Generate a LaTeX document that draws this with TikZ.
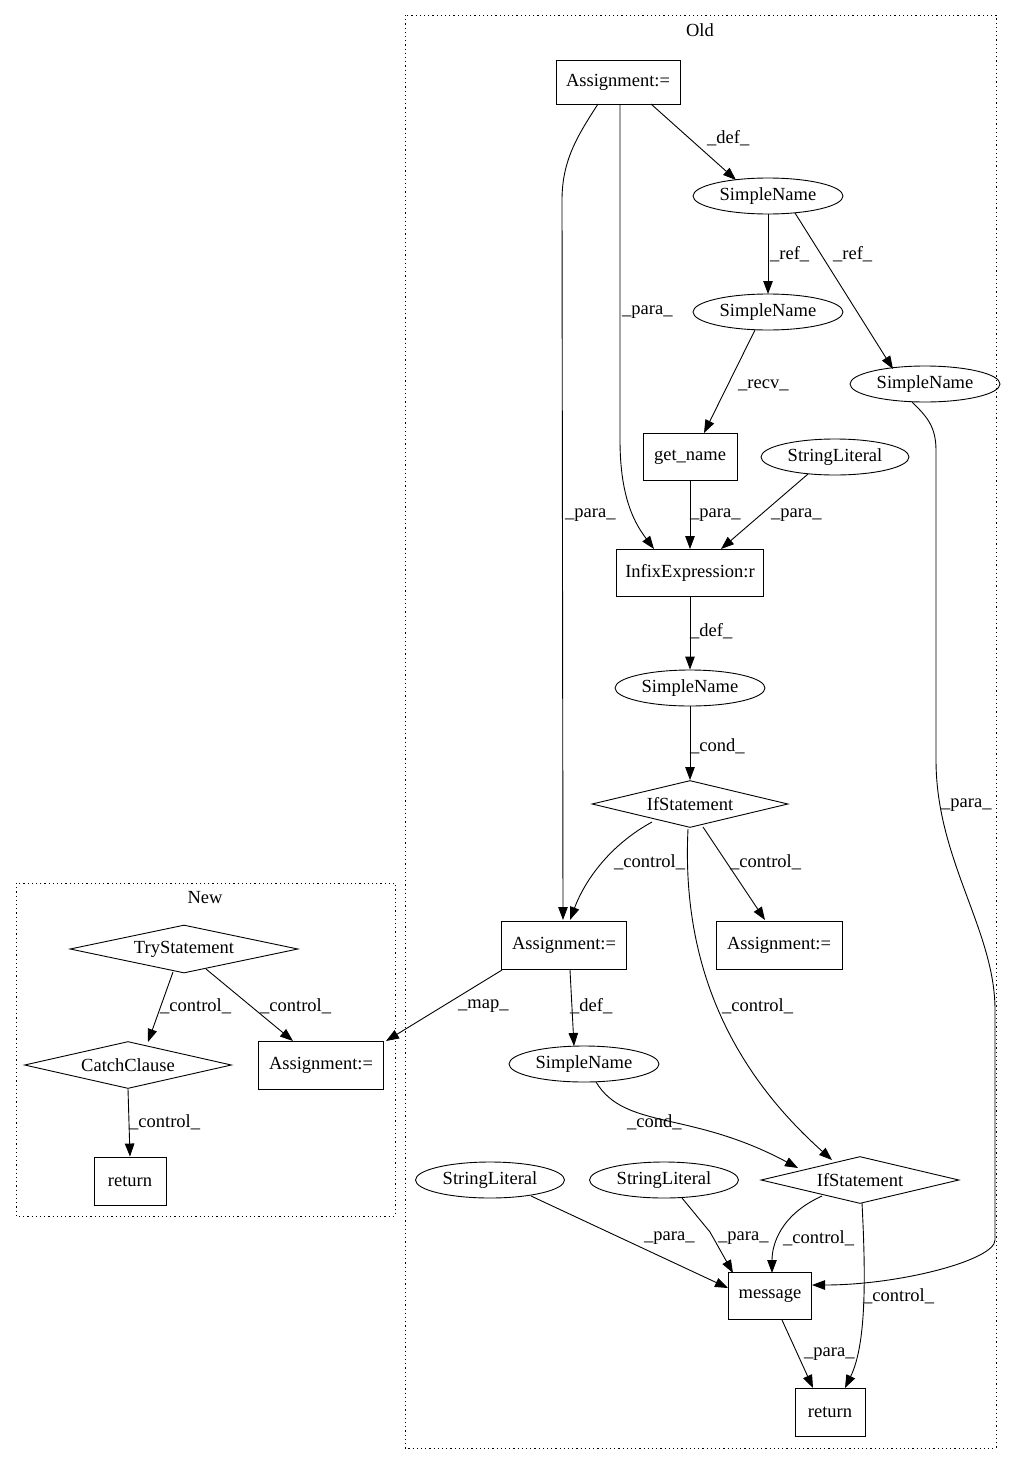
\documentclass[tikz,border=0pt]{standalone}
\usepackage{fontspec}
\setmainfont{Liberation Serif}
\usetikzlibrary{arrows.meta,shapes.geometric}
\begin{document}
\begin{tikzpicture}[x=1pt,y=-1pt,
  every node/.style={font=\fontsize{18.5}{21}\selectfont},
  box/.style={draw,line width=0.9pt,rectangle,minimum height=46pt,inner sep=0pt},
  oval/.style={draw,line width=0.9pt,ellipse,minimum height=36pt,inner sep=0pt},
  dia/.style={draw,line width=0.9pt,diamond,aspect=4.2,inner sep=0pt,minimum height=47pt},
  lbl/.style={inner sep=0pt,anchor=west},
  edge/.style={line width=0.9pt,-{Triangle[length=13pt,width=9.5pt]}},
  clus/.style={line width=0.9pt,dash pattern=on 1.2pt off 3pt}]
\useasboundingbox (0,0) rectangle (1021,1464);
% clusters
\draw[clus] (405,15) rectangle (996,1448);
\node (oldlbl) at (700,30) {Old};
\draw[clus] (16,883) rectangle (395,1216);
\node (newlbl) at (205,898) {New};
% Old nodes
\node[box,minimum width=124pt,minimum height=44pt] (a1) at (618,82) {Assignment:=};
\node[oval,minimum width=150pt] (sn1) at (768,196) {SimpleName};
\node[oval,minimum width=150pt] (sn2) at (768,312) {SimpleName};
\node[oval,minimum width=150pt] (sn3) at (925,384) {SimpleName};
\node[box,minimum width=94pt,minimum height=47pt] (gn) at (690,457) {get\_name};
\node[oval,minimum width=148pt] (sl0) at (835,457) {StringLiteral};
\node[box,minimum width=147pt,minimum height=47pt] (inf) at (690,573) {InfixExpression:r};
\node[oval,minimum width=150pt] (sn4) at (690,688) {SimpleName};
\node[dia,minimum width=196pt] (if1) at (690,804) {IfStatement};
\node[box,minimum width=125pt,minimum height=48pt] (a2) at (564,945) {Assignment:=};
\node[box,minimum width=126pt,minimum height=48pt] (a3) at (779,945) {Assignment:=};
\node[oval,minimum width=150pt] (sn5) at (584,1064) {SimpleName};
\node[dia,minimum width=198pt] (if2) at (860,1180) {IfStatement};
\node[oval,minimum width=149pt] (sl1) at (490,1180) {StringLiteral};
\node[oval,minimum width=149pt] (sl2) at (664,1180) {StringLiteral};
\node[box,minimum width=83pt,minimum height=47pt] (msg) at (770,1296) {message};
\node[box,minimum width=70pt,minimum height=48pt] (ret) at (830,1412) {return};
% New nodes
\node[dia,minimum width=228pt,minimum height=48pt] (try) at (184,949) {TryStatement};
\node[dia,minimum width=207pt,minimum height=47pt] (catch) at (128,1065) {CatchClause};
\node[box,minimum width=125pt,minimum height=48pt] (a4) at (321,1065) {Assignment:=};
\node[box,minimum width=72pt,minimum height=48pt] (ret2) at (130,1181) {return};
% edges Old
\draw[edge] (651,104) -- (736,180);
\node[lbl] (l1) at (707,138) {\_def\_};
\draw[edge] (620,104) -- (620,440) .. controls (620,500) and (636,525) .. (654,549);
\node[lbl] (l2) at (622,312) {\_para\_};
\draw[edge] (598,104) .. controls (578,135) and (562,160) .. (562,200) -- (563,920);
\node[lbl] (l3) at (565,515) {\_para\_};
\draw[edge] (768,214) -- (768,294);
\node[lbl] (l4) at (770,254) {\_ref\_};
\draw[edge] (795,213) -- (893,369);
\node[lbl] (l5) at (833,254) {\_ref\_};
\draw[edge] (755,330) -- (704,433);
\node[lbl] (l6) at (738,385) {\_recv\_};
\draw[edge] (gn.south) -- (inf.north);
\node[lbl] (l7) at (690,515) {\_para\_};
\draw[edge] (808,474) -- (721,549);
\node[lbl] (l8) at (771,515) {\_para\_};
\draw[edge] (inf.south) -- (sn4.north);
\node[lbl] (l9) at (690,631) {\_def\_};
\draw[edge] (sn4.south) -- (if1.north);
\node[lbl] (l10) at (690,746) {\_cond\_};
\draw[edge] (652,822) .. controls (610,845) and (585,880) .. (570,920);
\node[lbl] (l11) at (614,862) {\_control\_};
\draw[edge] (703,827) -- (765,920);
\node[lbl] (l12) at (730,862) {\_control\_};
\draw[edge] (688,829) .. controls (682,950) and (720,1060) .. (832,1160);
\node[lbl] (l13) at (722,1006) {\_control\_};
\draw[edge] (570,970) -- (574,1046);
\node[lbl] (l14) at (570,1006) {\_def\_};
\draw[edge] (502,970) -- (386,1041);
\node[lbl] (l15) at (458,1006) {\_map\_};
\draw[edge] (596,1082) .. controls (625,1130) and (690,1110) .. (798,1168);
\node[lbl] (l16) at (627,1122) {\_cond\_};
\draw[edge] (912,402) .. controls (925,415) and (936,425) .. (936,450) -- (936,760) .. controls (936,860) and (995,930) .. (995,1010) -- (995,1240) .. controls (995,1260) and (900,1285) .. (812,1285);
\node[lbl] (l17) at (941,805) {\_para\_};
\draw[edge] (531,1196) -- (728,1288);
\node[lbl] (l18) at (644,1238) {\_para\_};
\draw[edge] (682,1198) -- (710,1232) -- (733,1273);
\node[lbl] (l19) at (718,1238) {\_para\_};
\draw[edge] (822,1196) .. controls (780,1215) and (772,1245) .. (772,1273);
\node[lbl] (l20) at (783,1238) {\_control\_};
\draw[edge] (862,1203) .. controls (866,1280) and (866,1345) .. (845,1388);
\node[lbl] (l21) at (863,1296) {\_control\_};
\draw[edge] (782,1320) -- (813,1388);
\node[lbl] (l22) at (804,1354) {\_para\_};
% New edges
\draw[edge] (173,972) -- (148,1042);
\node[lbl] (l23) at (160,1006) {\_control\_};
\draw[edge] (206,969) -- (293,1041);
\node[lbl] (l24) at (260,1006) {\_control\_};
\draw[edge] (catch.south) -- (ret2.north);
\node[lbl] (l25) at (129,1122) {\_control\_};
\end{tikzpicture}
\end{document}
